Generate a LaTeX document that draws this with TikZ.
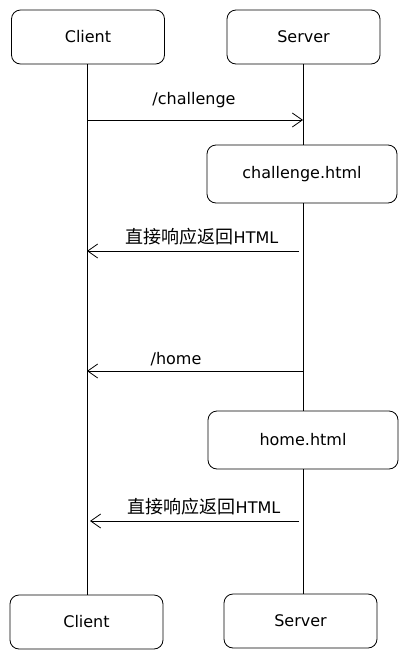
\documentclass[tikz,border=0pt]{standalone}
\usepackage{fontspec}
\setmainfont{DejaVu Sans}
\newfontfamily\cjk{Noto Sans CJK SC}
\usetikzlibrary{arrows.meta,positioning,calc}

\begin{document}
\begin{tikzpicture}[x=1pt,y=-1pt,line width=0.8pt,
    actor/.style={draw,rounded corners=9pt,fill=white,minimum width=153pt,minimum height=54pt,font=\fontsize{16}{19}\selectfont},
    page/.style={draw,rounded corners=9pt,fill=white,minimum width=190pt,minimum height=58pt,font=\fontsize{16}{19}\selectfont},
    msg/.style={-{Straight Barb[length=10pt,width=14pt]}},
    lbl/.style={font=\fontsize{16}{19}\selectfont}]
    \useasboundingbox (0,0) rectangle (409,659);
    \node [actor] (ctop) at (88,37) {Client};
    \node [actor] (stop) at (303.5,37) {Server};
    \node [page] (chal) at (302,174) {challenge.html};
    \node [page] (home) at (303,440) {home.html};
    \node [actor] (cbot) at (86.5,622) {Client};
    \node [actor] (sbot) at (300.5,621) {Server};

    % lifelines
    \draw (ctop.south -| 87,0) -- (cbot.north -| 87,0);
    \draw (stop.south -| 303,0) -- (chal.north -| 303,0);
    \draw (chal.south -| 303,0) -- (home.north -| 303,0);
    \draw (home.south -| 303,0) -- (sbot.north -| 303,0);

    % message ends
    \coordinate (m1a) at (87,120);  \coordinate (m1b) at (303,120);
    \coordinate (m2a) at (299,251); \coordinate (m2b) at (87,251);
    \coordinate (m3a) at (303,371); \coordinate (m3b) at (87,371);
    \coordinate (m4a) at (299,521); \coordinate (m4b) at (90,521);

    \draw [msg] (m1a) -- (m1b);
    \draw [msg] (m2a) -- (m2b);
    \draw [msg] (m3a) -- (m3b);
    \draw [msg] (m4a) -- (m4b);

    \node [lbl] (l1) at (194,100) {/challenge};
    \node [lbl] (l2) at (202,237) {{\cjk\fontsize{18}{20}\selectfont 直接响应返回}HTML};
    \node [lbl] (l3) at (176,359) {/home};
    \node [lbl] (l4) at (204,507) {{\cjk\fontsize{18}{20}\selectfont 直接响应返回}HTML};
\end{tikzpicture}
\end{document}
